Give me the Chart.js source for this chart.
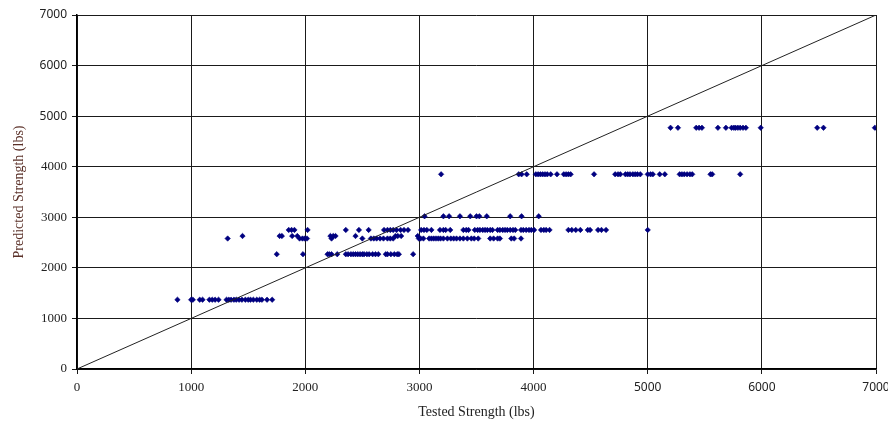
<!DOCTYPE html>
<html>
<head>
    <title>Predicted vs Tested Strength</title>
    <script src="https://cdn.jsdelivr.net/npm/chart.js"></script>
    <style>
        body {
            margin: 0;
            background: #ffffff;
        }
        .chart-container {
            width: 888px;
            height: 424px;
        }
    </style>
</head>
<body>
<div class="chart-container">
    <canvas id="strengthChart"></canvas>
</div>

<script>
    // Predicted strength levels (lbs) and the tested strengths (lbs) observed at each level
    const level1370 = 1370;
    const tested1370 = [880, 1000, 1015, 1075, 1100, 1160, 1185, 1210, 1240, 1310, 1330, 1350, 1375, 1395,
        1420, 1445, 1475, 1500, 1520, 1545, 1575, 1600, 1620, 1665, 1710];

    const level2270 = 2270;
    const tested2270 = [1750, 1980, 2195, 2210, 2230, 2280, 2355, 2375, 2400, 2420, 2440, 2460, 2480, 2500,
        2515, 2540, 2560, 2590, 2615, 2640, 2705, 2720, 2750, 2780, 2805, 2820, 2945];

    const level2580 = 2580;
    const tested2580 = [1320, 1950, 1975, 1995, 2015, 2230, 2500, 2575, 2600, 2625, 2655, 2685, 2720, 2745,
        2770, 2995, 3010, 3035, 3085, 3105, 3125, 3145, 3165, 3185, 3210, 3245, 3275, 3300, 3325, 3355,
        3385, 3420, 3455, 3480, 3515, 3620, 3650, 3685, 3705, 3805, 3830, 3890];

    const level2630 = 2630;
    const tested2630 = [1450, 1775, 1795, 1885, 1930, 2220, 2245, 2265, 2440, 2790, 2810, 2840, 2985];

    const level2750 = 2750;
    const tested2750 = [1855, 1880, 1905, 2020, 2355, 2470, 2555, 2690, 2720, 2745, 2770, 2800, 2835, 2865,
        2900, 3015, 3040, 3065, 3105, 3180, 3210, 3230, 3270, 3385, 3410, 3430, 3485, 3510, 3530, 3555,
        3575, 3595, 3620, 3640, 3685, 3705, 3730, 3750, 3770, 3795, 3820, 3840, 3890, 3910, 3935, 3960,
        3980, 4005, 4065, 4090, 4110, 4140, 4305, 4335, 4370, 4410, 4475, 4495, 4565, 4595, 4635, 5000];

    const level3020 = 3020;
    const tested3020 = [3045, 3210, 3260, 3355, 3445, 3500, 3525, 3590, 3795, 3895, 4045];

    const level3850 = 3850;
    const tested3850 = [3190, 3870, 3895, 3940, 4020, 4040, 4060, 4080, 4100, 4120, 4150, 4205, 4265, 4285,
        4305, 4325, 4530, 4715, 4740, 4760, 4805, 4825, 4845, 4870, 4890, 4910, 4935, 5000, 5025, 5045,
        5105, 5150, 5280, 5300, 5320, 5345, 5370, 5390, 5550, 5565, 5810];

    const level4770 = 4770;
    const tested4770 = [5200, 5265, 5425, 5450, 5475, 5615, 5685, 5735, 5755, 5770, 5790, 5810, 5835, 5860,
        5990, 6485, 6540, 6990];

    // 1:1 reference line
    const equalityLine = [0, 7000];

    const rows = [
        [level1370, tested1370],
        [level2270, tested2270],
        [level2580, tested2580],
        [level2630, tested2630],
        [level2750, tested2750],
        [level3020, tested3020],
        [level3850, tested3850],
        [level4770, tested4770]
    ];

    const points = [];
    rows.forEach(([level, tested]) => {
        tested.forEach(t => points.push({x: t, y: level}));
    });

    const serifFont = {family: "'Liberation Serif', 'Times New Roman', serif", size: 13};
    const sansFont = {family: "'Noto Sans', sans-serif", size: 12};

    // the upper labels of the original were set in a sans face
    function tickFont(ctx) {
        return ctx.tick && ctx.tick.value >= 5000 ? sansFont : serifFont;
    }

    const ctx = document.getElementById('strengthChart').getContext('2d');
    new Chart(ctx, {
        type: 'scatter',
        data: {
            datasets: [{
                label: 'Strength',
                data: points,
                pointStyle: 'rectRot',
                pointRadius: 2.7,
                pointBorderWidth: 0.6,
                backgroundColor: '#000080',
                borderColor: '#000080',
                order: 2
            }, {
                label: '1:1',
                type: 'line',
                data: equalityLine.map(v => ({x: v, y: v})),
                borderColor: '#222222',
                borderWidth: 1,
                pointRadius: 0,
                fill: false,
                order: 1
            }]
        },
        options: {
            responsive: true,
            maintainAspectRatio: false,
            animation: false,
            layout: {
                padding: {left: 0, right: 12, top: 15, bottom: 0}
            },
            plugins: {
                legend: {display: false},
                tooltip: {enabled: false}
            },
            scales: {
                x: {
                    type: 'linear',
                    min: 0,
                    max: 7000,
                    ticks: {
                        stepSize: 1000,
                        color: '#222222',
                        font: tickFont,
                        padding: 6,
                        maxRotation: 0,
                        callback: value => String(value)
                    },
                    grid: {
                        color: '#1a1a1a',
                        lineWidth: 1,
                        tickLength: 5
                    },
                    border: {color: '#000000', width: 1.5},
                    title: {
                        display: true,
                        text: 'Tested Strength (lbs)',
                        color: '#222222',
                        font: {family: "'Liberation Serif', 'Times New Roman', serif", size: 14},
                        padding: {top: 4, bottom: 3}
                    },
                    afterFit: scale => {
                        scale.height = 55;
                        scale.paddingRight = 0;
                        scale.paddingLeft = 0;
                    }
                },
                y: {
                    type: 'linear',
                    min: 0,
                    max: 7000,
                    ticks: {
                        stepSize: 1000,
                        color: '#222222',
                        font: tickFont,
                        padding: 5,
                        callback: value => String(value)
                    },
                    grid: {
                        color: '#1a1a1a',
                        lineWidth: 1,
                        tickLength: 5
                    },
                    border: {color: '#000000', width: 1.5},
                    title: {
                        display: true,
                        text: 'Predicted Strength (lbs)',
                        color: '#5a3028',
                        font: {family: "'Liberation Serif', 'Times New Roman', serif", size: 14},
                        padding: {top: 11, bottom: 4}
                    },
                    afterFit: scale => { scale.width = 77; }
                }
            }
        }
    });
</script>
</body>
</html>
